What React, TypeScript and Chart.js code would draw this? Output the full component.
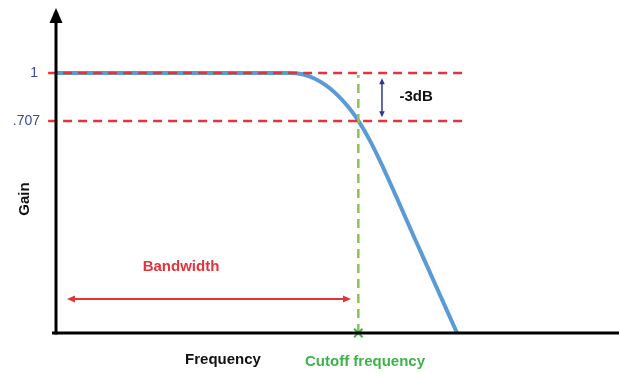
import React, { useEffect, useRef } from "react";
import { Chart, registerables } from "chart.js";

Chart.register(...registerables);

// Frequency (x, 0..100 across the axis) and gain (y)
const curveFreq = [0, 41.56, 43.75, 45.9, 47.97, 50.0, 51.97, 53.89, 55.74, 57.55, 64.39, 71.23];
const curveGain = [1, 1, 0.995, 0.979, 0.952, 0.915, 0.868, 0.81, 0.741, 0.662, 0.331, 0];

const gainTickValues = [1, 0.815];
const gainTickLabels = ["1", ".707"];
const refLineFreq = [-1.4, 72.6];
const cutoffFreq = 53.7;
const cutoffTop = 0.992;
const bandwidthFreq = [1.95, 52.4];
const bandwidthGain = 0.131;
const dbArrowFreq = 57.9;
const dbArrowGain = [0.98, 0.83];

const RED = "#e3333b";
const BLUE = "#5b9bd5";
const LGREEN = "#8fc15a";
const DGREEN = "#3cb44a";
const NAVY = "#2b3990";
const FONT = "'Liberation Sans', Arial, sans-serif";

function arrowHead(ctx: CanvasRenderingContext2D, x: number, y: number, ang: number, len: number, w: number) {
  ctx.beginPath();
  ctx.moveTo(x, y);
  ctx.lineTo(x - len * Math.cos(ang) + w * Math.sin(ang), y - len * Math.sin(ang) - w * Math.cos(ang));
  ctx.lineTo(x - len * Math.cos(ang) - w * Math.sin(ang), y - len * Math.sin(ang) + w * Math.cos(ang));
  ctx.closePath();
  ctx.fill();
}

function doubleArrow(ctx: CanvasRenderingContext2D, x1: number, y1: number, x2: number, y2: number, color: string, lw: number, len: number, w: number) {
  ctx.save();
  ctx.strokeStyle = color;
  ctx.fillStyle = color;
  ctx.lineWidth = lw;
  const ang = Math.atan2(y2 - y1, x2 - x1);
  ctx.beginPath();
  ctx.moveTo(x1 + Math.cos(ang) * len * 0.8, y1 + Math.sin(ang) * len * 0.8);
  ctx.lineTo(x2 - Math.cos(ang) * len * 0.8, y2 - Math.sin(ang) * len * 0.8);
  ctx.stroke();
  arrowHead(ctx, x2, y2, ang, len, w);
  arrowHead(ctx, x1, y1, ang + Math.PI, len, w);
  ctx.restore();
}

const decorPlugin = {
  id: "decor",
  afterDatasetsDraw(chart: any) {
    const ctx: CanvasRenderingContext2D = chart.ctx;
    const xs = chart.scales.x;
    const ys = chart.scales.y;
    const x0 = xs.getPixelForValue(0);
    const y0 = ys.getPixelForValue(0);
    const top = chart.chartArea.top;
    ctx.save();
    // axes
    ctx.strokeStyle = "#000";
    ctx.fillStyle = "#000";
    ctx.lineWidth = 3;
    ctx.beginPath();
    ctx.moveTo(x0, y0 + 1.5);
    ctx.lineTo(x0, top + 12);
    ctx.stroke();
    ctx.beginPath();
    ctx.moveTo(x0, top);
    ctx.lineTo(x0 - 6.5, top + 15);
    ctx.lineTo(x0 + 6.5, top + 15);
    ctx.closePath();
    ctx.fill();
    ctx.beginPath();
    ctx.moveTo(x0 - 4, y0);
    ctx.lineTo(chart.width, y0);
    ctx.stroke();

    // tick labels
    ctx.fillStyle = "#3b4ba0";
    ctx.font = `14px ${FONT}`;
    ctx.textAlign = "right";
    ctx.textBaseline = "middle";
    gainTickValues.forEach((v, i) => {
      ctx.fillText(gainTickLabels[i], i === 0 ? x0 - 18 : x0 - 16, ys.getPixelForValue(v));
    });

    // bandwidth arrow
    doubleArrow(ctx, xs.getPixelForValue(bandwidthFreq[0]), ys.getPixelForValue(bandwidthGain),
      xs.getPixelForValue(bandwidthFreq[1]), ys.getPixelForValue(bandwidthGain), RED, 2, 8, 3.5);
    // -3dB arrow
    doubleArrow(ctx, xs.getPixelForValue(dbArrowFreq), ys.getPixelForValue(dbArrowGain[0]),
      xs.getPixelForValue(dbArrowFreq), ys.getPixelForValue(dbArrowGain[1]), NAVY, 1.5, 6, 2.8);

    // texts
    ctx.font = `bold 15px ${FONT}`;
    ctx.textBaseline = "middle";
    ctx.textAlign = "left";
    ctx.fillStyle = "#111";
    ctx.fillText("-3dB", xs.getPixelForValue(61), ys.getPixelForValue(0.908));
    ctx.textAlign = "center";
    ctx.fillStyle = RED;
    ctx.fillText("Bandwidth", xs.getPixelForValue(22.2), ys.getPixelForValue(0.254));
    ctx.fillStyle = "#111";
    ctx.fillText("Frequency", 223, y0 + 27);
    ctx.fillStyle = DGREEN;
    ctx.fillText("Cutoff frequency", 365, y0 + 29);
    ctx.fillStyle = "#111";
    ctx.translate(25, 199);
    ctx.rotate(-Math.PI / 2);
    ctx.fillText("Gain", 0, 0);
    ctx.restore();
  },
};

export default function App() {
  const ref = useRef<HTMLCanvasElement | null>(null);
  useEffect(() => {
    if (!ref.current) return;
    const refLine = (g: number) => refLineFreq.map((f) => ({ x: f, y: g }));
    const chart = new Chart(ref.current, {
      type: "line",
      data: {
        datasets: [
          {
            label: "ref1",
            data: refLine(gainTickValues[0]),
            borderColor: RED,
            borderWidth: 2.5,
            borderDash: [9, 6],
            pointRadius: 0,
            clip: false,
            order: 1,
          } as any,
          {
            label: "ref707",
            data: refLine(gainTickValues[1]),
            borderColor: RED,
            borderWidth: 2.5,
            borderDash: [9, 6],
            pointRadius: 0,
            clip: false,
            order: 1,
          },
          {
            label: "cutoff",
            data: [{ x: cutoffFreq, y: 0 }, { x: cutoffFreq, y: cutoffTop }],
            borderColor: LGREEN,
            borderWidth: 2.5,
            borderDash: [9, 6],
            pointRadius: 0,
            clip: false,
            order: 2,
          },
          {
            label: "marker",
            data: [{ x: cutoffFreq, y: 0 }],
            borderColor: DGREEN,
            backgroundColor: DGREEN,
            borderWidth: 2,
            pointStyle: "crossRot",
            pointRadius: 6,
            showLine: false,
            clip: false,
            order: 0,
          },
          {
            label: "gain",
            data: curveFreq.map((f, i) => ({ x: f, y: curveGain[i] })),
            borderColor: BLUE,
            borderWidth: 4,
            pointRadius: 0,
            cubicInterpolationMode: "monotone",
            clip: false,
            order: 3,
          },
        ],
      },
      options: {
        animation: false,
        responsive: false,
        maintainAspectRatio: false,
        layout: { autoPadding: false, padding: { left: 56, right: 0, top: 8, bottom: 40 } },
        plugins: { legend: { display: false }, tooltip: { enabled: false } },
        scales: {
          x: { type: "linear", min: 0, max: 100, display: false },
          y: { type: "linear", min: 0, max: 1.25, display: false },
        },
      },
      plugins: [decorPlugin],
    });
    return () => chart.destroy();
  }, []);
  return (
    <div style={{ position: "absolute", left: 0, top: 0, width: 619, height: 373, background: "#fff" }}>
      <canvas ref={ref} width={619} height={373} />
    </div>
  );
}
